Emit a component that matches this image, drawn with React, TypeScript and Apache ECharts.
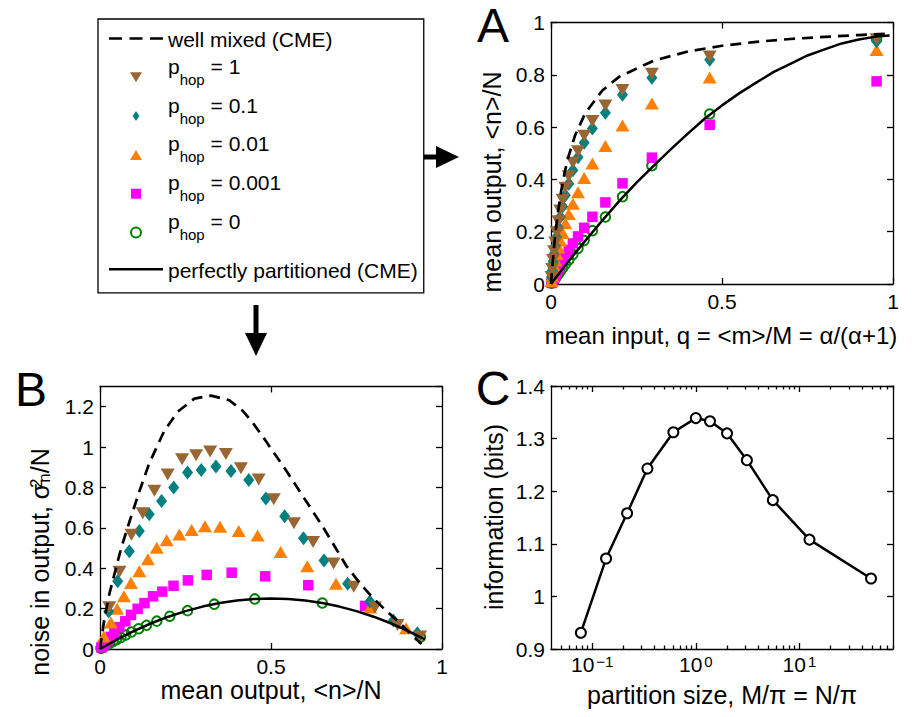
import React, { useEffect, useRef } from 'react';
import * as echarts from 'echarts';

const FONT = "'Liberation Sans', Arial, Helvetica, sans-serif";

// ---------- shared input grid (panel A x-values) ----------
const qGrid = [0.952, 0.464, 0.295, 0.209, 0.159, 0.121, 0.097, 0.079, 0.064, 0.052, 0.042, 0.034, 0.027, 0.0215, 0.0165, 0.0125, 0.009, 0.006, 0.0036, 0.0016];

// ---------- mean output <n>/N per series ----------
const meanP1 = [0.936, 0.87, 0.804, 0.742, 0.683, 0.623, 0.567, 0.508, 0.464, 0.412, 0.368, 0.322, 0.281, 0.24, 0.198, 0.159, 0.125, 0.092, 0.057, 0.027];
const meanP01 = [0.928, 0.858, 0.789, 0.724, 0.655, 0.595, 0.54, 0.485, 0.435, 0.383, 0.339, 0.296, 0.256, 0.2155, 0.18, 0.144, 0.115, 0.0857, 0.0517, 0.0254];
const meanP001 = [0.895, 0.79, 0.69, 0.606, 0.528, 0.461, 0.4055, 0.351, 0.307, 0.268, 0.232, 0.195, 0.166, 0.14, 0.115, 0.0906, 0.07, 0.05, 0.032, 0.0115];
const meanP0001 = [0.775, 0.609, 0.483, 0.385, 0.312, 0.257, 0.215, 0.182, 0.155, 0.13, 0.11, 0.0906, 0.074, 0.0565, 0.042, 0.032, 0.023, 0.015, 0.009, 0.004];
const meanP0 = [0.937, 0.65, 0.4525, 0.334, 0.256, 0.204, 0.166, 0.136, 0.113, 0.092, 0.075, 0.061, 0.048, 0.038, 0.029, 0.022, 0.016, 0.0105, 0.0063, 0.0028];

// ---------- noise sigma_n^2/N per series ----------
const noiseP1 = [0.062, 0.119, 0.205, 0.308, 0.423, 0.53, 0.623, 0.742, 0.84, 0.895, 0.966, 0.978, 0.96, 0.94, 0.864, 0.784, 0.672, 0.566, 0.383, 0.207];
const noiseP01 = [0.078, 0.141, 0.235, 0.323, 0.438, 0.548, 0.657, 0.745, 0.837, 0.882, 0.904, 0.887, 0.874, 0.8, 0.733, 0.667, 0.584, 0.484, 0.335, 0.186];
const noiseP001 = [0.103, 0.205, 0.323, 0.41, 0.481, 0.562, 0.584, 0.605, 0.608, 0.589, 0.567, 0.539, 0.501, 0.445, 0.385, 0.327, 0.261, 0.199, 0.131, 0.062];
const noiseP0001 = [0.213, 0.316, 0.36, 0.378, 0.367, 0.34, 0.313, 0.284, 0.261, 0.227, 0.199, 0.169, 0.137, 0.108, 0.08, 0.06, 0.044, 0.029, 0.018, 0.008];
const noiseP0 = [0.059, 0.228, 0.248, 0.222, 0.19, 0.162, 0.138, 0.117, 0.1, 0.084, 0.069, 0.057, 0.046, 0.037, 0.028, 0.022, 0.016, 0.01, 0.006, 0.003];

// ---------- theory curves, panel A ----------
const wellQ = [0, 0.005, 0.01, 0.015, 0.02, 0.03, 0.04, 0.05, 0.07, 0.1, 0.15, 0.2, 0.3, 0.4, 0.5, 0.6, 0.7, 0.8, 0.9, 0.99];
const wellMeanA = [0, 0.085, 0.156, 0.218, 0.271, 0.358, 0.427, 0.483, 0.567, 0.653, 0.74, 0.793, 0.854, 0.889, 0.911, 0.926, 0.937, 0.945, 0.952, 0.957];
const partQ = [0, 0.05, 0.1, 0.15, 0.2, 0.25, 0.3, 0.35, 0.4, 0.45, 0.5, 0.55, 0.6, 0.65, 0.7, 0.75, 0.8, 0.85, 0.9, 0.95, 0.99];
const partMeanA = [0, 0.085, 0.165, 0.243, 0.318, 0.388, 0.452, 0.515, 0.575, 0.633, 0.683, 0.729, 0.77, 0.81, 0.842, 0.874, 0.897, 0.92, 0.935, 0.946, 0.95];

// ---------- theory curves, panel B ----------
const wellMeanB = [0, 0.012, 0.027, 0.042, 0.062, 0.086, 0.115, 0.144, 0.188, 0.227, 0.276, 0.325, 0.378, 0.417, 0.447, 0.485, 0.54, 0.59, 0.648, 0.682, 0.721, 0.758, 0.794, 0.833, 0.877, 0.916, 0.94];
const wellNoiseB = [0, 0.14, 0.27, 0.37, 0.5, 0.63, 0.78, 0.92, 1.08, 1.175, 1.24, 1.255, 1.232, 1.18, 1.12, 1.03, 0.895, 0.765, 0.615, 0.52, 0.41, 0.33, 0.26, 0.195, 0.128, 0.062, 0.025];
const partMeanB = [0, 0.05, 0.1, 0.15, 0.2, 0.25, 0.3, 0.35, 0.4, 0.45, 0.5, 0.55, 0.6, 0.65, 0.7, 0.75, 0.8, 0.85, 0.9, 0.95];
const partNoiseB = [0, 0.0475, 0.09, 0.1275, 0.16, 0.1875, 0.21, 0.2275, 0.24, 0.2475, 0.25, 0.2475, 0.24, 0.2275, 0.21, 0.1875, 0.16, 0.1275, 0.09, 0.0475];

// ---------- panel C ----------
const partitionSize = [0.0777, 0.136, 0.217, 0.341, 0.607, 1.0, 1.37, 2.0, 3.11, 5.54, 12.5, 49.1];
const information = [0.931, 1.072, 1.158, 1.243, 1.312, 1.339, 1.333, 1.31, 1.259, 1.183, 1.108, 1.034];
const logMajorTicks = [0.1, 1, 10];
const logMinorTicks = [0.05, 0.06, 0.07, 0.08, 0.09, 0.2, 0.3, 0.4, 0.5, 0.6, 0.7, 0.8, 0.9, 2, 3, 4, 5, 6, 7, 8, 9, 20, 30, 40, 50, 60, 70, 80];

// ---------- legend labels ----------
const seriesNames = ['well mixed (CME)', 'p1', 'p0.1', 'p0.01', 'p0.001', 'p0', 'perfectly partitioned (CME)'];
const hopValues: Record<string, string> = { p1: '1', 'p0.1': '0.1', 'p0.01': '0.01', 'p0.001': '0.001', p0: '0' };
const legendIcons: Record<string, string> = {
  'well mixed (CME)': 'path://M0,0h13v2.6h-13zM20.5,0h13v2.6h-13zM41,0h13v2.6h-13z',
  p1: 'path://M0,0L12,0L6,10Z',
  'p0.1': 'path://M4,0L8,6L4,12L0,6Z',
  'p0.01': 'path://M6,0L12,10L0,10Z',
  'p0.001': 'path://M0,0h9v9h-9z',
  p0: 'path://M4,0A4,4,0,1,1,4,8A4,4,0,1,1,4,0Z',
  'perfectly partitioned (CME)': 'path://M0,0h54v2.6h-54z',
};

const zip = (a: number[], b: number[]) => a.map((v, i) => [v, b[i]]);

const BROWN = '#996633';
const TEAL = '#008080';
const ORANGE = '#FF8000';
const MAGENTA = '#FF00FF';
const GREEN = '#008000';

const axisLine = { show: true, onZero: false, lineStyle: { color: '#000', width: 1.3 } };
const axisTick = { show: true, inside: true, length: 6, lineStyle: { color: '#000', width: 1.3 } };
const axisLabel = { color: '#000', fontSize: 21, fontFamily: FONT, margin: 7 };
const noSplit = { show: false };

function valueX(grid: number, pos: 'top' | 'bottom', showLabel: boolean) {
  return {
    type: 'value', gridIndex: grid, position: pos, min: 0, max: 1, interval: 0.5,
    axisLine, axisTick, splitLine: noSplit,
    axisLabel: { ...axisLabel, show: showLabel },
  };
}

function valueY(grid: number, pos: 'left' | 'right', showLabel: boolean, min: number, max: number, interval: number) {
  return {
    type: 'value', gridIndex: grid, position: pos, min, max, interval,
    axisLine, axisTick, splitLine: noSplit,
    axisLabel: { ...axisLabel, margin: 6, show: showLabel, showMaxLabel: max === 1.3 ? false : true },
  };
}

function logX(pos: 'top' | 'bottom', minor: boolean, showLabel: boolean) {
  const label = showLabel
    ? {
        ...axisLabel,
        show: true,
        margin: 5,
        customValues: logMajorTicks,
        formatter: (v: number) => {
          const e = Math.round(Math.log10(v));
          if (Math.abs(Math.log10(v) - e) > 1e-6) return '';
          return `{b|10}{s|${e < 0 ? '\u2212' + -e : e}}`;
        },
        rich: {
          b: { fontSize: 21, lineHeight: 21, fontFamily: FONT, color: '#000', verticalAlign: 'bottom' },
          s: { fontSize: 15, lineHeight: 15, fontFamily: FONT, color: '#000', verticalAlign: 'top', padding: [0, 0, 12, 2] },
        },
      }
    : { show: false };
  return {
    type: 'log', gridIndex: 2, position: pos, min: 0.04, max: 80, logBase: 10,
    axisLine: minor ? { show: false } : axisLine,
    axisTick: minor
      ? { ...axisTick, length: 3.5, customValues: logMinorTicks }
      : { ...axisTick, customValues: logMajorTicks },
    splitLine: noSplit,
    axisLabel: label,
  };
}

function panelSeries(gridX: number, gridY: number, wellData: number[][], partData: number[][], xs: number[][], ys: number[][]) {
  const base = { xAxisIndex: gridX, yAxisIndex: gridY, silent: true };
  const markers = [
    { name: 'p0', symbol: 'circle', symbolSize: 9.5, itemStyle: { color: 'rgba(0,0,0,0)', borderColor: GREEN, borderWidth: 2, opacity: 1 } },
    { name: 'p0.001', symbol: 'rect', symbolSize: 10.5, itemStyle: { color: MAGENTA, opacity: 1 } },
    { name: 'p0.01', symbol: 'triangle', symbolSize: [14, 12], itemStyle: { color: ORANGE, opacity: 1 } },
    { name: 'p0.1', symbol: 'diamond', symbolSize: [11, 14], itemStyle: { color: TEAL, opacity: 1 } },
    { name: 'p1', symbol: 'triangle', symbolSize: [14, 12], symbolRotate: 180, itemStyle: { color: BROWN, opacity: 1 } },
  ];
  return [
    {
      ...base, type: 'line', name: 'well mixed (CME)', data: wellData, symbol: 'none', smooth: false,
      lineStyle: { color: '#000', width: 2.7, type: [11, 7] }, itemStyle: { color: '#000' },
    },
    {
      ...base, type: 'line', name: 'perfectly partitioned (CME)', data: partData, symbol: 'none', smooth: false,
      lineStyle: { color: '#000', width: 2.5, type: 'solid' }, itemStyle: { color: '#000' },
    },
    ...markers.map((m, i) => ({ ...base, type: 'scatter', ...m, data: zip(xs[i], ys[i]) })),
  ];
}

function buildOption() {
  const aX = [qGrid, qGrid, qGrid, qGrid, qGrid];
  const means = [meanP0, meanP0001, meanP001, meanP01, meanP1];
  const noises = [noiseP0, noiseP0001, noiseP001, noiseP01, noiseP1];

  const titleStyle = { fontSize: 25, fontFamily: FONT, fill: '#000', align: 'center', verticalAlign: 'middle', textAlign: 'center', textVerticalAlign: 'middle' };
  const letterStyle = { fontSize: 48, fontFamily: FONT, fill: '#000', align: 'center', verticalAlign: 'middle', textAlign: 'center', textVerticalAlign: 'middle' };

  return {
    animation: false,
    backgroundColor: '#fff',
    grid: [
      { left: 551, top: 22.5, width: 342, height: 261.5 },
      { left: 100, top: 386.5, width: 342, height: 262.5 },
      { left: 551, top: 386, width: 342, height: 263 },
    ],
    xAxis: [
      valueX(0, 'bottom', true), valueX(0, 'top', false),
      valueX(1, 'bottom', true), valueX(1, 'top', false),
      logX('bottom', false, true), logX('top', false, false),
      logX('bottom', true, false), logX('top', true, false),
    ],
    yAxis: [
      valueY(0, 'left', true, 0, 1, 0.2), valueY(0, 'right', false, 0, 1, 0.2),
      valueY(1, 'left', true, 0, 1.3, 0.2), valueY(1, 'right', false, 0, 1.3, 0.2),
      valueY(2, 'left', true, 0.9, 1.4, 0.1), valueY(2, 'right', false, 0.9, 1.4, 0.1),
    ],
    legend: {
      orient: 'vertical', left: 98, top: 19, padding: [0, 6, 4, 11], itemGap: -2.2,
      itemWidth: 54, itemHeight: 10, selectedMode: false, symbolKeepAspect: true, symbolRotate: 0,
      borderColor: '#000', borderWidth: 1.3, backgroundColor: '#fff',
      data: seriesNames.map((n) => ({ name: n, icon: legendIcons[n], symbolRotate: 0 })),
      formatter: (name: string) => (hopValues[name] !== undefined ? `{p|p}{s|hop}{p| = ${hopValues[name]}}` : `{m|${name}}`),
      textStyle: {
        fontSize: 21, fontFamily: FONT, color: '#000',
        rich: {
          m: { fontSize: 21, lineHeight: 39, height: 21, fontFamily: FONT, color: '#000', verticalAlign: 'top', padding: [10, 0, 8, 0] },
          p: { fontSize: 21, lineHeight: 39, height: 17, fontFamily: FONT, color: '#000', verticalAlign: 'top', padding: [0, 0, 22, 0] },
          s: { fontSize: 15, lineHeight: 39, height: 15, fontFamily: FONT, color: '#000', verticalAlign: 'top', padding: [14, 0, 10, 0] },
        },
      },
    },
    series: [
      ...panelSeries(0, 0, zip(wellQ, wellMeanA), zip(partQ, partMeanA), aX, means),
      ...panelSeries(2, 2, zip(wellMeanB, wellNoiseB), zip(partMeanB, partNoiseB), means, noises),
      {
        type: 'line', name: 'information', xAxisIndex: 4, yAxisIndex: 4, silent: true,
        data: zip(partitionSize, information),
        symbol: 'circle', symbolSize: 10,
        itemStyle: { color: '#fff', borderColor: '#000', borderWidth: 2 },
        lineStyle: { color: '#000', width: 2.5 },
      },
    ],
    graphic: [
      { type: 'text', x: 493, y: 25, style: { ...letterStyle, text: 'A' } },
      { type: 'text', x: 31, y: 389, style: { ...letterStyle, text: 'B' } },
      { type: 'text', x: 493, y: 388, style: { ...letterStyle, text: 'C' } },
      {
        type: 'polygon', shape: { points: [[408, 154.5], [436, 154.5], [436, 146], [459, 157], [436, 168], [436, 159.5], [408, 159.5]] },
        style: { fill: '#000' },
      },
      {
        type: 'polygon', shape: { points: [[253.5, 305], [258.5, 305], [258.5, 333], [267, 333], [256, 356], [245, 333], [253.5, 333]] },
        style: { fill: '#000' },
      },
      { type: 'text', x: 721, y: 335, style: { ...titleStyle, fontSize: 24, text: 'mean input, q = <m>/M = \u03b1/(\u03b1+1)' } },
      { type: 'text', x: 492, y: 182, rotation: Math.PI / 2, style: { ...titleStyle, text: 'mean output, <n>/N' } },
      { type: 'text', x: 271, y: 690, style: { ...titleStyle, text: 'mean output, <n>/N' } },
      {
        type: 'text', x: 40, y: 562, rotation: Math.PI / 2,
        style: {
          ...titleStyle,
          text: '{t|noise in output, \u03c3}{sp|2}{sb|n}{t|/N}',
          rich: {
            t: { fontSize: 25, lineHeight: 25, fontFamily: FONT, fill: '#000', verticalAlign: 'middle' },
            sp: { fontSize: 17, lineHeight: 17, fontFamily: FONT, fill: '#000', verticalAlign: 'top', padding: [0, 0, 14, 0], width: 1 },
            sb: { fontSize: 17, lineHeight: 17, fontFamily: FONT, fill: '#000', verticalAlign: 'bottom', padding: [14, 0, 0, 0] },
          },
        },
      },
      { type: 'text', x: 722, y: 695, style: { ...titleStyle, text: 'partition size, M/\u03c0 = N/\u03c0' } },
      { type: 'text', x: 494, y: 517, rotation: Math.PI / 2, style: { ...titleStyle, text: 'information (bits)' } },
    ],
  };
}

export default function App() {
  const ref = useRef<HTMLDivElement>(null);
  useEffect(() => {
    const chart = echarts.init(ref.current!, null, { renderer: 'svg' });
    chart.setOption(buildOption() as any);
    return () => chart.dispose();
  }, []);
  return (
    <div
      ref={ref}
      style={{ position: 'fixed', left: 0, top: 0, width: 920, height: 717, background: '#fff' }}
    />
  );
}
